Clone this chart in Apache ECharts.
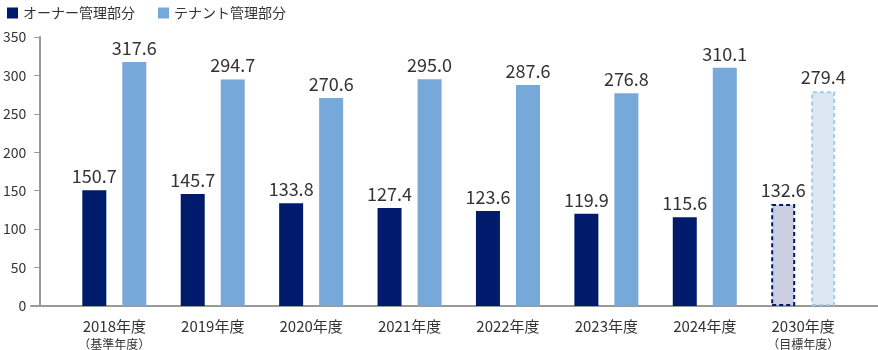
<!DOCTYPE html>
<html>
<head>
<meta charset="utf-8">
<script src="https://cdn.jsdelivr.net/npm/echarts@6/dist/echarts.min.js"></script>
<style>
  html, body { margin: 0; padding: 0; background: #fff; }
  #chart { width: 878px; height: 350px; }
</style>
</head>
<body>
<div id="chart"></div>
<script>
// Fiscal years and sub-notes shown under the category labels
const years = ['2018年度', '2019年度', '2020年度', '2021年度', '2022年度', '2023年度', '2024年度', '2030年度'];
const notes = ['（基準年度）', '', '', '', '', '', '', '（目標年度）'];

// Series values
const ownerValues = [150.7, 145.7, 133.8, 127.4, 123.6, 119.9, 115.6, 132.6];
const tenantValues = [317.6, 294.7, 270.6, 295.0, 287.6, 276.8, 310.1, 279.4];

const seriesNames = ['オーナー管理部分', 'テナント管理部分'];
const yTicks = [0, 50, 100, 150, 200, 250, 300, 350];

const FONT = '"Noto Sans CJK JP", "Noto Sans", sans-serif';
const NAVY = '#001b6b';
const BLUE = '#76a8da';
const TARGET_INDEX = years.length - 1;

function buildData(values, targetStyle) {
  return values.map((v, i) => i === TARGET_INDEX ? { value: v, itemStyle: targetStyle } : v);
}

const chart = echarts.init(document.getElementById('chart'), null, { renderer: 'canvas' });

const valueLabel = {
  show: true,
  position: 'top',
  distance: 5,
  color: '#333',
  fontSize: 18,
  fontFamily: FONT,
  formatter: p => Number(p.value).toFixed(1)
};

chart.setOption({
  animation: false,
  textStyle: { fontFamily: FONT },
  legend: {
    left: 2,
    top: 1,
    itemWidth: 11,
    itemHeight: 11,
    itemGap: 23,
    icon: 'rect',
    textStyle: { color: '#333', fontSize: 14, fontFamily: FONT },
    data: seriesNames
  },
  grid: [
    { left: 62.3, right: 25.6, top: 37, bottom: 44 },
    { left: 31, right: 0, top: 37, bottom: 44 }
  ],
  xAxis: [
    {
      type: 'category',
      gridIndex: 0,
      data: years,
      axisLine: { show: false },
      axisTick: { show: false },
      axisLabel: {
        margin: 11,
        interval: 0,
        formatter: (v, i) => notes[i] ? '{a|' + v + '}\n{b|' + notes[i] + '}' : '{a|' + v + '}',
        rich: {
          a: { fontSize: 15, color: '#333', fontFamily: FONT, lineHeight: 18 },
          b: { fontSize: 12, color: '#333', fontFamily: FONT, lineHeight: 18 }
        }
      }
    },
    {
      // Baseline spanning the full width of the plot
      type: 'value',
      gridIndex: 1,
      min: 0,
      max: 1,
      position: 'bottom',
      axisLine: { show: true, onZero: false, lineStyle: { color: '#999', width: 2 } },
      axisTick: { show: false },
      axisLabel: { show: false },
      splitLine: { show: false }
    }
  ],
  yAxis: [
    {
      type: 'value',
      gridIndex: 0,
      min: yTicks[0],
      max: yTicks[yTicks.length - 1],
      interval: 50,
      offset: 25.8,
      axisLine: { show: true, lineStyle: { color: '#999', width: 2 } },
      axisTick: { show: true, length: 5, lineStyle: { color: '#999', width: 1 } },
      axisLabel: { color: '#333', fontSize: 14, margin: 13, fontFamily: FONT },
      splitLine: { show: false }
    },
    {
      type: 'value',
      gridIndex: 1,
      min: 0,
      max: 350,
      show: false
    }
  ],
  series: [
    {
      name: seriesNames[0],
      type: 'bar',
      xAxisIndex: 0,
      yAxisIndex: 0,
      barWidth: 24,
      barGap: '66.7%',
      itemStyle: { color: NAVY },
      label: valueLabel,
      data: buildData(ownerValues, {
        color: '#c9cee0',
        borderColor: NAVY,
        borderWidth: 2,
        borderType: [4, 3]
      })
    },
    {
      name: seriesNames[1],
      type: 'bar',
      xAxisIndex: 0,
      yAxisIndex: 0,
      barWidth: 24,
      itemStyle: { color: BLUE },
      label: valueLabel,
      data: buildData(tenantValues, {
        color: '#dce7f4',
        borderColor: '#a8c8ea',
        borderWidth: 2,
        borderType: [4, 3]
      })
    }
  ]
});
</script>
</body>
</html>
